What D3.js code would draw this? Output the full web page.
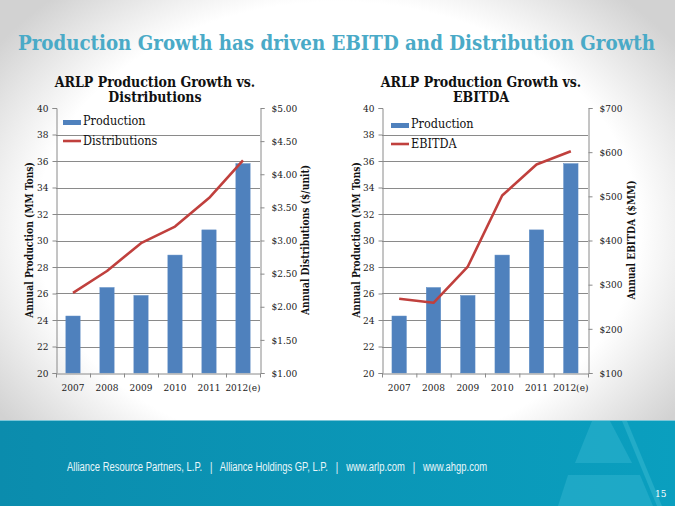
<!DOCTYPE html>
<html><head><meta charset="utf-8">
<script src="https://cdn.jsdelivr.net/npm/d3@7"></script>
<style>body{margin:0;background:#fff} svg{display:block} .pre{white-space:pre}</style>
</head><body><svg id="c" width="675" height="506"></svg>
<script>
// ---- data ----
const years = ["2007", "2008", "2009", "2010", "2011", "2012(e)"];
const production = [24.3, 26.45, 25.85, 28.9, 30.8, 35.8];
const distributions = [2.21, 2.54, 2.96, 3.21, 3.64, 4.21];
const ebitda = [268, 259, 341, 502, 572, 602];
const productionTicks = [20, 22, 24, 26, 28, 30, 32, 34, 36, 38, 40];
const distributionTicks = [1.0, 1.5, 2.0, 2.5, 3.0, 3.5, 4.0, 4.5, 5.0];
const ebitdaTicks = [100, 200, 300, 400, 500, 600, 700];
const pageTitle = "Production Growth has driven EBITD and Distribution Growth";
const footerText = "Alliance Resource Partners, L.P.   |   Alliance Holdings GP, L.P.   |   www.arlp.com   |   www.ahgp.com";

const svg = d3.select("#c");
const W = 675, H = 506;
const serif = "'DejaVu Serif Condensed','DejaVu Serif',Georgia,serif";

// ---- background ----
const defs = svg.append("defs");
const bg = defs.append("radialGradient").attr("id", "bg").attr("cx", "50%").attr("cy", "45%").attr("r", "62%");
bg.append("stop").attr("offset", "0").attr("stop-color", "#ffffff");
bg.append("stop").attr("offset", "0.72").attr("stop-color", "#ffffff");
bg.append("stop").attr("offset", "1").attr("stop-color", "#d2d2d2");
svg.append("rect").attr("width", W).attr("height", H).attr("fill", "url(#bg)");

const ft = defs.append("linearGradient").attr("id", "ft").attr("x1", 0).attr("x2", 1).attr("y1", 0).attr("y2", 0);
ft.append("stop").attr("offset", "0").attr("stop-color", "#0b8cad");
ft.append("stop").attr("offset", "1").attr("stop-color", "#0a9fbf");
svg.append("rect").attr("x", 0).attr("y", 420).attr("width", W).attr("height", H - 420).attr("fill", "url(#ft)");
svg.append("line").attr("x1", 0).attr("x2", W).attr("y1", 420.5).attr("y2", 420.5).attr("stroke", "#7cc6d8").attr("stroke-width", 1);
// decorative "A" shape
svg.append("path").attr("d", "M592,421 L610,421 L632,463 L575,463 Z").attr("fill", "#2fb3ce").attr("opacity", 0.55);
svg.append("path").attr("d", "M568,475 L640,475 L653,506 L558,506 Z").attr("fill", "#2fb3ce").attr("opacity", 0.55);
svg.append("path").attr("d", "M622,421 L627,421 L662,506 L657,506 Z").attr("fill", "#39b9d2").attr("opacity", 0.5);

// ---- page title ----
svg.append("text").attr("x", 18).attr("y", 50)
  .attr("font-family", serif).attr("font-weight", "bold").attr("font-size", 19.5)
  .attr("fill", "#4aaac7").attr("textLength", 637).attr("lengthAdjust", "spacingAndGlyphs")
  .text(pageTitle);

// ---- footer ----
svg.append("text").attr("class", "pre").attr("x", 67).attr("y", 471)
  .attr("font-family", "'Liberation Sans Narrow','Arial Narrow','Liberation Sans',sans-serif")
  .attr("font-stretch", "condensed").attr("font-size", 12.5).attr("fill", "#e8f6fa")
  .attr("textLength", 420).attr("lengthAdjust", "spacingAndGlyphs")
  .text(footerText);
svg.append("text").attr("x", 655).attr("y", 497).attr("font-family", serif).attr("font-size", 10)
  .attr("fill", "#ffffff").text("15");

// ---- chart builder ----
function drawChart(o) {
  const g = svg.append("g");
  const x = d3.scaleBand().domain(years).range([o.x0, o.x1]).paddingInner(0).paddingOuter(0);
  const y = d3.scaleLinear().domain([20, 40]).range([373, 108]);
  const y2 = d3.scaleLinear().domain(o.rDomain).range([373, 108]);

  // gridlines
  g.selectAll(".grid").data(productionTicks.filter(t => t > 20 && t < 40)).enter().append("line")
    .attr("x1", o.x0).attr("x2", o.x1).attr("y1", d => Math.round(y(d)) + 0.5).attr("y2", d => Math.round(y(d)) + 0.5)
    .attr("stroke", "#8a8a8a").attr("stroke-width", 1);

  // bars
  const bw = x.bandwidth() * 0.42;
  g.selectAll(".bar").data(production).enter().append("rect")
    .attr("x", (d, i) => x(years[i]) + (x.bandwidth() - bw) / 2)
    .attr("width", bw)
    .attr("y", d => y(d)).attr("height", d => y(20) - y(d))
    .attr("fill", "#4f81bd").attr("stroke", "#5d8cc4").attr("stroke-width", 0.5);

  // line
  const line = d3.line().x((d, i) => x(years[i]) + x.bandwidth() / 2).y(d => y2(d));
  g.append("path").datum(o.lineData).attr("d", line).attr("fill", "none")
    .attr("stroke", "#c0403d").attr("stroke-width", 2.6).attr("stroke-linejoin", "round");

  // axes
  const axL = d3.axisLeft(y).tickValues(productionTicks).tickSize(4).tickPadding(4).tickFormat(d3.format("d"));
  const gl = g.append("g").attr("transform", `translate(${o.x0 + 0.5},0)`).call(axL);
  const axR = d3.axisRight(y2).tickValues(o.rTicks).tickSize(4).tickPadding(7).tickFormat(o.rFmt);
  const gr = g.append("g").attr("transform", `translate(${o.x1 + 0.5},0)`).call(axR);
  const axB = d3.axisBottom(x).tickSize(0).tickPadding(10);
  const gb = g.append("g").attr("transform", `translate(0,${373.5})`).call(axB);
  // ticks at band boundaries
  const bounds = years.map(d => x(d)).concat([o.x1]);
  gb.selectAll(".bt").data(bounds).enter().append("line")
    .attr("x1", d => d + 0.5).attr("x2", d => d + 0.5).attr("y1", 0).attr("y2", 4).attr("stroke", "#8a8a8a");
  [gl, gr, gb].forEach(a => {
    a.select(".domain").attr("stroke", "#8a8a8a");
    a.selectAll(".tick line").attr("stroke", "#8a8a8a");
    a.selectAll("text").attr("font-family", serif).attr("font-size", 10).attr("fill", "#222");
  });

  // chart title
  o.title.forEach((t, i) => {
    g.append("text").attr("x", o.titleX).attr("y", 87 + i * 15).attr("text-anchor", "middle")
      .attr("font-family", serif).attr("font-weight", "bold").attr("font-size", 14).attr("fill", "#111").text(t);
  });

  // axis titles (both read bottom-to-top)
  g.append("text").attr("transform", `translate(${o.lTitleX},240) rotate(-90)`).attr("text-anchor", "middle")
    .attr("font-family", serif).attr("font-weight", "bold").attr("font-size", 10.2).attr("fill", "#111")
    .text("Annual Production (MM Tons)");
  g.append("text").attr("transform", `translate(${o.rTitleX},240) rotate(-90)`).attr("text-anchor", "middle")
    .attr("font-family", serif).attr("font-weight", "bold").attr("font-size", 10.2).attr("fill", "#111")
    .text(o.rTitle);

  // legend
  const lx = o.x0 + o.legDx;
  g.append("rect").attr("x", lx).attr("y", o.legY - 5).attr("width", 18).attr("height", 5).attr("fill", "#4f81bd");
  g.append("text").attr("x", lx + 20).attr("y", o.legY).attr("font-family", serif).attr("font-size", 12.5).attr("fill", "#111").text("Production");
  g.append("line").attr("x1", lx).attr("x2", lx + 18).attr("y1", o.legY + 16).attr("y2", o.legY + 16)
    .attr("stroke", "#c0403d").attr("stroke-width", 2.6);
  g.append("text").attr("x", lx + 20).attr("y", o.legY + 20).attr("font-family", serif).attr("font-size", 12.5).attr("fill", "#111").text(o.lineName);
}

drawChart({
  x0: 56, x1: 260, lineData: distributions, rDomain: [1, 5], rTicks: distributionTicks,
  rFmt: d => "$" + d3.format(".2f")(d), title: ["ARLP Production Growth vs.", "Distributions"], titleX: 155,
  lTitleX: 33, rTitleX: 309, rTitle: "Annual Distributions ($/unit)", lineName: "Distributions", legDx: 7, legY: 125
});
drawChart({
  x0: 382, x1: 588, lineData: ebitda, rDomain: [100, 700], rTicks: ebitdaTicks,
  rFmt: d => "$" + d, title: ["ARLP Production Growth vs.", "EBITDA"], titleX: 481,
  lTitleX: 360, rTitleX: 635, rTitle: "Annual EBITDA ($MM)", lineName: "EBITDA", legDx: 9, legY: 128
});
</script></body></html>
